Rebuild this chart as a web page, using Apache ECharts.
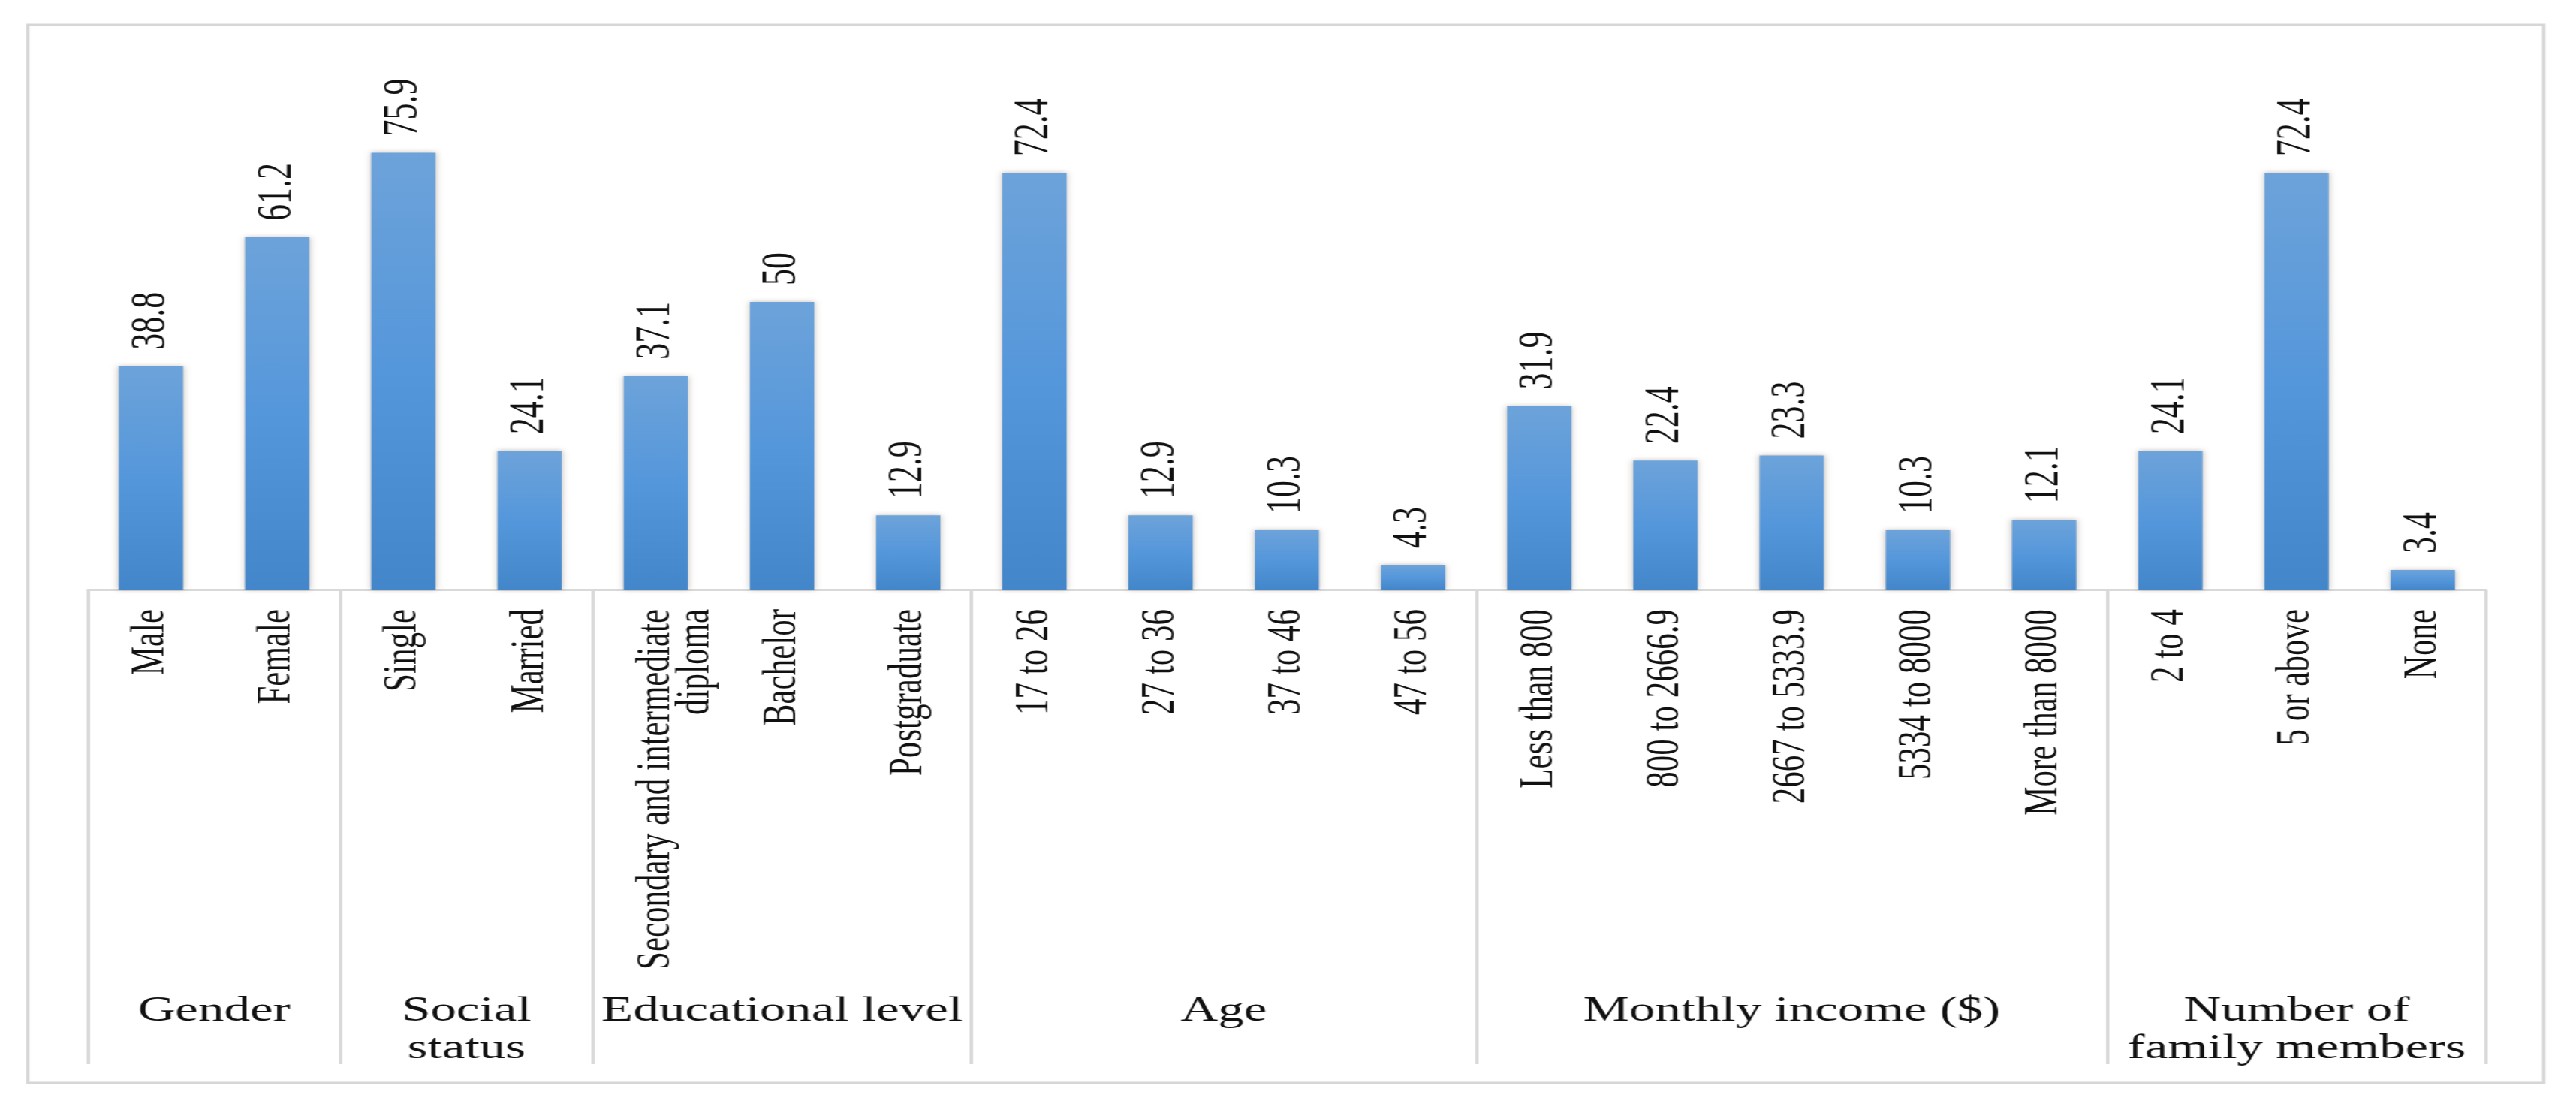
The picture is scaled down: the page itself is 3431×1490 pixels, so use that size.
<!DOCTYPE html>
<html><head><meta charset="utf-8">
<script src="https://cdn.jsdelivr.net/npm/echarts@6/dist/echarts.min.js"></script>
<style>
html,body{margin:0;padding:0;background:#fff;overflow:hidden;width:3431px;height:1490px;}
#chart{position:absolute;left:0;top:0;width:2287px;height:1490px;transform:scaleX(1.5);transform-origin:0 0;}
</style></head><body><div id="chart"></div>
<script>
// ---- data ----
const categories = ['Male', 'Female', 'Single', 'Married', 'Secondary and intermediate diploma', 'Bachelor', 'Postgraduate',
  '17 to 26', '27 to 36', '37 to 46', '47 to 56',
  'Less than 800', '800 to 2666.9', '2667 to 5333.9', '5334 to 8000', 'More than 8000',
  '2 to 4', '5 or above', 'None'];
const values = [38.8, 61.2, 75.9, 24.1, 37.1, 50, 12.9, 72.4, 12.9, 10.3, 4.3, 31.9, 22.4, 23.3, 10.3, 12.1, 24.1, 72.4, 3.4];
const groupNames = ['Gender', 'Social\nstatus', 'Educational level', 'Age', 'Monthly income ($)', 'Number of\nfamily members'];
const groupSizes = [2, 2, 3, 4, 5, 3];

// ---- chart ----
const chart = echarts.init(document.getElementById('chart'), null, { renderer: 'canvas' });
const WRAP = 26;

function wrapLabel(s, max) {
  const words = s.split(' ');
  const lines = [];
  let cur = '';
  words.forEach(w => {
    const t = cur ? cur + ' ' + w : w;
    if (t.length > max && cur) { lines.push(cur); cur = w; } else { cur = t; }
  });
  if (cur) lines.push(cur);
  // wrapped labels are laid out with the first line on the band centre
  return lines.length > 1 ? '\n' + lines.join('\n') : lines[0];
}

const groupStarts = [];
let acc = 0;
groupSizes.forEach(n => { groupStarts.push(acc); acc += n; });
const tickSet = new Set(groupStarts);

const FONT = '"Liberation Serif", "Times New Roman", serif';

const option = {
  animation: false,
  backgroundColor: '#ffffff',
  grid: { left: 78, right: 79.7, top: 172, bottom: 705 },
  xAxis: {
    type: 'category',
    data: categories,
    boundaryGap: true,
    axisLine: { show: true, lineStyle: { color: '#d9d9d9', width: 3 } },
    axisTick: { show: true, length: 632, interval: (i) => tickSet.has(i), lineStyle: { color: '#d9d9d9', width: 3 } },
    axisLabel: {
      interval: 0, rotate: 90, margin: 26,
      fontFamily: FONT, fontSize: 43, color: '#111', lineHeight: 35,
      formatter: (v) => wrapLabel(v, WRAP)
    },
    splitLine: { show: false }
  },
  yAxis: { type: 'value', min: 0, max: 80, show: false },
  series: [{
    type: 'bar',
    data: values,
    barWidth: '51%',
    itemStyle: {
      color: new echarts.graphic.LinearGradient(0, 0, 0, 1, [
        { offset: 0, color: '#6da3da' },
        { offset: 0.5, color: '#5597db' },
        { offset: 1, color: '#4386ca' }
      ]),
      shadowBlur: 6,
      shadowColor: 'rgba(80,60,40,0.35)'
    },
    label: {
      show: true, position: 'top', rotate: 90, align: 'left', verticalAlign: 'middle',
      distance: 22, fontFamily: FONT, fontSize: 44, color: '#111'
    }
  }]
};
chart.setOption(option);

// frame and group labels, positioned through the category axis
const graphics = [{
  type: 'rect', z: -1,
  shape: { x: 24.7, y: 33, width: 2234, height: 1409 },
  style: { fill: 'none', stroke: '#d6d6d6', lineWidth: 3 }
}];
groupNames.forEach((name, gi) => {
  const s = groupStarts[gi];
  const e = s + groupSizes[gi] - 1;
  const x0 = chart.convertToPixel({ xAxisIndex: 0 }, s);
  const x1 = chart.convertToPixel({ xAxisIndex: 0 }, e);
  graphics.push({
    type: 'text',
    x: (x0 + x1) / 2, y: 1322,
    style: {
      text: name, fill: '#111', font: '46px ' + FONT,
      textAlign: 'center', textVerticalAlign: 'top', lineHeight: 50
    }
  });
});
chart.setOption({ graphic: graphics });
</script>
</body></html>
